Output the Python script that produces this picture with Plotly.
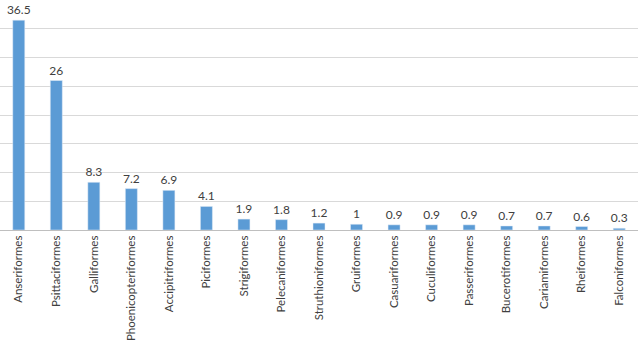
import plotly.graph_objects as go

orders = ["Anseriformes", "Psittaciformes", "Galliformes", "Phoenicopteriformes",
          "Accipitriformes", "Piciformes", "Strigiformes", "Pelecaniformes",
          "Struthioniformes", "Gruiformes", "Casuariformes", "Cuculiformes",
          "Passeriformes", "Bucerotiformes", "Cariamiformes", "Rheiformes",
          "Falconiformes"]
values = [36.5, 26, 8.3, 7.2, 6.9, 4.1, 1.9, 1.8, 1.2, 1, 0.9, 0.9, 0.9, 0.7, 0.7, 0.6, 0.3]
labels = ["36.5", "26", "8.3", "7.2", "6.9", "4.1", "1.9", "1.8", "1.2", "1", "0.9",
          "0.9", "0.9", "0.7", "0.7", "0.6", "0.3"]

fig = go.Figure(go.Bar(
    x=orders, y=values, text=labels, textposition="outside",
    textfont=dict(size=12, color="#404040", family="Lato"),
    marker=dict(color="#5b9bd5"), cliponaxis=False,
))
fig.update_layout(
    width=638, height=341,
    margin=dict(l=0, r=0, t=0, b=111, autoexpand=False),
    plot_bgcolor="white", paper_bgcolor="white",
    bargap=0.68, showlegend=False,
    uniformtext=dict(minsize=12, mode="show"),
    font=dict(family="Lato", color="#404040"),
    xaxis=dict(tickangle=-90, tickfont=dict(size=11.5, color="#404040"),
               showline=True, linecolor="#bfbfbf", linewidth=1, ticks="",
               automargin=False),
    yaxis=dict(range=[0, 40], dtick=5, showticklabels=False, showgrid=True,
               gridcolor="#d9d9d9", gridwidth=1, zeroline=False, automargin=False),
)
fig.write_html("out.html", config={"displayModeBar": False},
               post_script="document.body.style.margin='0';")
